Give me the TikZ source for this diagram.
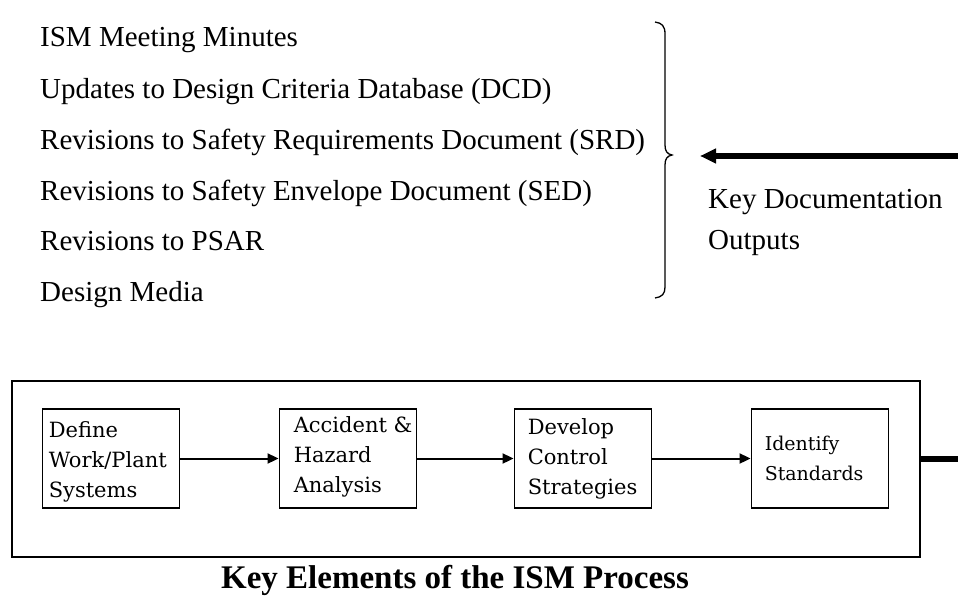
\documentclass[tikz,border=0pt]{standalone}
\usepackage{fontspec}
\setmainfont{Liberation Serif}
\newfontfamily\boxfont{DejaVu Serif}
\usetikzlibrary{arrows.meta}

\tikzset{
  listitem/.style={anchor=base west, inner sep=0pt, font=\fontsize{29}{29}\selectfont},
  stepbox/.style={draw, line width=1.9pt, minimum width=137pt, minimum height=99pt, inner sep=0pt},
  steptext/.style={anchor=west, inner sep=0pt, align=left, font=\boxfont\fontsize{21}{30}\selectfont},
  flow/.style={line width=2pt, -{Triangle[length=11pt,width=10pt]}},
  heavy/.style={line width=5.5pt},
}

\begin{document}
\begin{tikzpicture}[x=1pt, y=-1pt]
  \useasboundingbox (0,0) rectangle (958,602);

  % documentation outputs
  \node[listitem] (o1) at (40,47)  {ISM Meeting Minutes};
  \node[listitem] (o2) at (40,98)  {Updates to Design Criteria Database (DCD)};
  \node[listitem] (o3) at (40,149) {Revisions to Safety Requirements Document (SRD)};
  \node[listitem] (o4) at (40,200) {Revisions to Safety Envelope Document (SED)};
  \node[listitem] (o5) at (40,250) {Revisions to PSAR};
  \node[listitem] (o6) at (40,301) {Design Media};

  % right brace grouping the outputs
  \draw[line width=1.3pt] (655,22) .. controls (662,23) and (665,26) .. (665,34)
    -- (665,145) .. controls (665,151) and (667,154) .. (672,155)
    .. controls (667,156) and (665,159) .. (665,165)
    -- (665,287) .. controls (665,294) and (662,297) .. (655,298);

  \node[listitem] (kd1) at (708,208) {Key Documentation};
  \node[listitem] (kd2) at (708,249) {Outputs};

  % process frame and steps
  \node[draw, line width=1.8pt, minimum width=908pt, minimum height=176pt, inner sep=0pt]
    (frame) at (466,469) {};

  \node[stepbox] (s1) at (111,458.5) {};
  \node[stepbox] (s2) at (348,458.5) {};
  \node[stepbox] (s3) at (583,458.5) {};
  \node[stepbox] (s4) at (820,458.5) {};

  \node[steptext] (t1) at ([xshift=7pt,yshift=-3pt]s1.west) {Define\\Work/Plant\\Systems};
  \node[steptext] (t2) at ([xshift=15pt,yshift=2pt]s2.west) {Accident \&\\Hazard\\Analysis};
  \node[steptext] (t3) at ([xshift=14pt]s3.west) {Develop\\Control\\Strategies};
  \node[steptext, font=\boxfont\fontsize{19}{30}\selectfont] (t4) at ([xshift=14pt]s4.west) {Identify\\Standards};

  \draw[flow] (s1.east) -- (s2.west);
  \draw[flow] (s2.east) -- (s3.west);
  \draw[flow] (s3.east) -- (s4.west);

  % feedback to the documentation outputs
  \coordinate (edgeLow) at (958,459);
  \coordinate (edgeHigh) at (958,156);
  \coordinate (braceTip) at (700,156);
  \draw[heavy] (frame.east |- edgeLow) -- (edgeLow);
  \draw[heavy, -{Triangle[length=16pt,width=14pt]}] (edgeHigh) -- (braceTip);

  \node[anchor=base, inner sep=0pt, font=\bfseries\fontsize{33}{33}\selectfont] (title) at (455,588)
    {Key Elements of the ISM Process};
\end{tikzpicture}
\end{document}
